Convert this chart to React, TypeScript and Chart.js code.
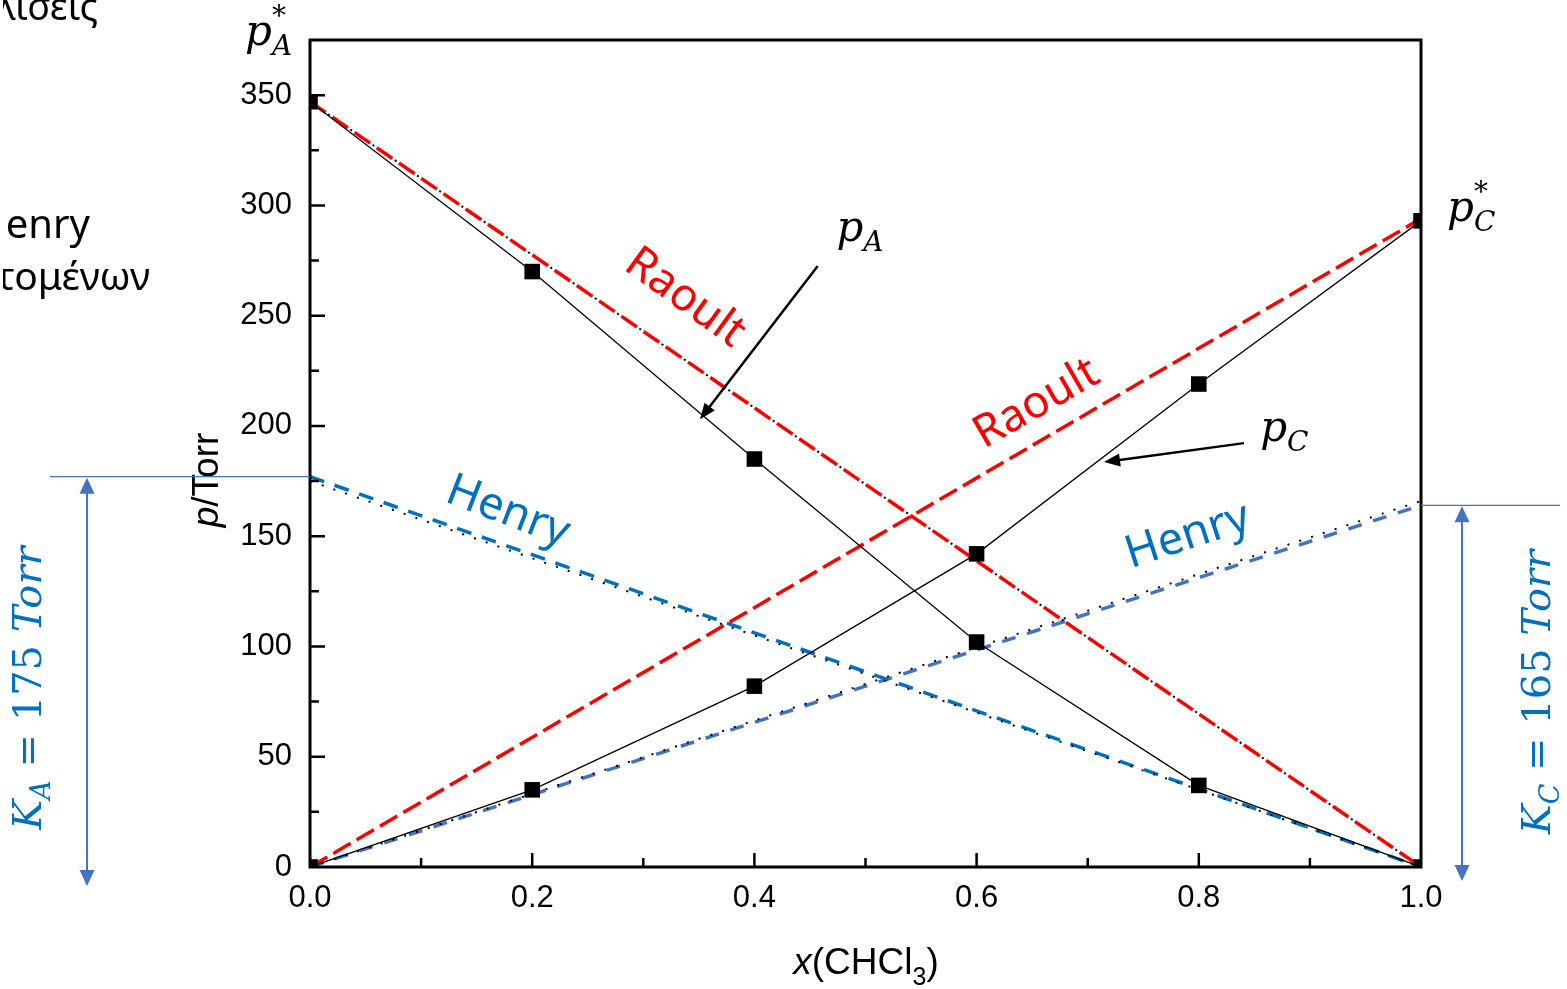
import React, { useEffect, useRef } from "react";
import { Chart, registerables } from "chart.js";

Chart.register(...registerables);

// ---------- data ----------
const moleFractions = [0, 0.2, 0.4, 0.6, 0.8, 1.0];
const pAcetone = [347, 270, 185, 102, 37, 0];
const pChloroform = [0, 35, 82, 142, 219, 293];

const lineEnds = [0, 1];
const raoultAcetone = [347, 0];
const raoultChloroform = [0, 294];
const henryAcetone = [177, 0];
const henryAcetoneGuide = [175, 0];
const henryChloroform = [0, 164];
const henryChloroformGuide = [0, 166];

const xTickValues = [0, 0.2, 0.4, 0.6, 0.8, 1.0];
const yTickValues = [0, 50, 100, 150, 200, 250, 300, 350];
const xMinorStep = 0.1;
const yMinorStep = 25;
const K_A_LABEL = "175";
const K_C_LABEL = "165";

// ---------- styling ----------
const W = 1567;
const H = 989;
const SANS = "'Liberation Sans', Arial, sans-serif";
const CAL = "'Noto Sans', 'Open Sans', sans-serif";
const MATH = "'DejaVu Serif', 'Liberation Serif', serif";
const RED = "#ff0000";
const BLUE_TXT = "#0070c0";
const BLUE_LINE = "#4472c4";

const pts = (xs: number[], ys: number[]) => xs.map((x, i) => ({ x, y: ys[i] }));

type Run = { text: string; font: string; dy?: number; color?: string; noAdvance?: boolean };

function drawRuns(ctx: CanvasRenderingContext2D, runs: Run[], x: number, y: number, align: "left" | "center" | "right", color: string) {
  let total = 0;
  for (const r of runs) {
    ctx.font = r.font;
    if (!r.noAdvance) total += ctx.measureText(r.text).width;
  }
  let cx = align === "left" ? x : align === "center" ? x - total / 2 : x - total;
  ctx.textAlign = "left";
  ctx.textBaseline = "alphabetic";
  for (const r of runs) {
    ctx.font = r.font;
    ctx.fillStyle = r.color || color;
    ctx.fillText(r.text, cx, y + (r.dy || 0));
    if (!r.noAdvance) cx += ctx.measureText(r.text).width;
  }
}

function arrowHead(ctx: CanvasRenderingContext2D, x0: number, y0: number, x1: number, y1: number, len: number, half: number) {
  const ang = Math.atan2(y1 - y0, x1 - x0);
  ctx.beginPath();
  ctx.moveTo(x1, y1);
  ctx.lineTo(x1 - len * Math.cos(ang) + half * Math.sin(ang), y1 - len * Math.sin(ang) - half * Math.cos(ang));
  ctx.lineTo(x1 - len * Math.cos(ang) - half * Math.sin(ang), y1 - len * Math.sin(ang) + half * Math.cos(ang));
  ctx.closePath();
  ctx.fill();
}

const overlay = {
  id: "overlay",
  afterDatasetsDraw(chart: any) {
    const ctx: CanvasRenderingContext2D = chart.ctx;
    const a = chart.chartArea;
    const sx = chart.scales.x;
    const sy = chart.scales.y;
    const px = (v: number) => sx.getPixelForValue(v);
    const py = (v: number) => sy.getPixelForValue(v);
    ctx.save();

    // frame
    ctx.strokeStyle = "#000";
    ctx.lineWidth = 3;
    ctx.strokeRect(a.left, a.top, a.right - a.left, a.bottom - a.top);

    // ticks (inside)
    ctx.lineWidth = 2.5;
    ctx.beginPath();
    for (let i = 1; i * xMinorStep < 1 - 1e-9; i++) {
      const v = i * xMinorStep;
      const len = i % 2 === 0 ? 14 : 9;
      ctx.moveTo(px(v), a.bottom);
      ctx.lineTo(px(v), a.bottom - len);
    }
    for (let v = yMinorStep; v < sy.max; v += yMinorStep) {
      const len = v % 50 === 0 ? 15 : 9;
      ctx.moveTo(a.left, py(v));
      ctx.lineTo(a.left + len, py(v));
    }
    ctx.stroke();

    // axis titles
    drawRuns(
      ctx,
      [
        { text: "x", font: `italic 37px ${SANS}` },
        { text: "(CHCl", font: `37px ${SANS}` },
        { text: "3", font: `25px ${SANS}`, dy: 11 },
        { text: ")", font: `37px ${SANS}` },
      ],
      866,
      974,
      "center",
      "#000"
    );
    ctx.save();
    ctx.translate(218, 480);
    ctx.rotate(-Math.PI / 2);
    drawRuns(
      ctx,
      [
        { text: "p", font: `italic 37px ${SANS}` },
        { text: "/Torr", font: `37px ${SANS}` },
      ],
      0,
      0,
      "center",
      "#000"
    );
    ctx.restore();

    // rotated curve labels
    const rotText = (t: string, vx: number, vy: number, deg: number, color: string) => {
      ctx.save();
      ctx.translate(px(vx), py(vy));
      ctx.rotate((deg * Math.PI) / 180);
      ctx.font = `45px ${CAL}`;
      ctx.fillStyle = color;
      ctx.textAlign = "center";
      ctx.textBaseline = "middle";
      ctx.fillText(t, 0, 0);
      ctx.restore();
    };
    rotText("Raoult", 0.3375, 258, 36, RED);
    rotText("Raoult", 0.654, 210, -30, RED);
    rotText("Henry", 0.178, 161, 21, BLUE_TXT);
    rotText("Henry", 0.79, 150, -18, BLUE_TXT);

    // p_A, p_C labels and arrows
    const mP = `italic 42px ${MATH}`;
    const mSub = `italic 28px ${MATH}`;
    drawRuns(ctx, [{ text: "p", font: mP }, { text: "A", font: mSub, dy: 10 }], px(0.495), py(284), "center", "#000");
    drawRuns(ctx, [{ text: "p", font: mP }, { text: "C", font: mSub, dy: 10 }], px(0.877), py(193), "center", "#000");
    ctx.strokeStyle = "#000";
    ctx.fillStyle = "#000";
    ctx.lineWidth = 2.5;
    const arrow = (x0: number, y0: number, x1: number, y1: number) => {
      const X0 = px(x0), Y0 = py(y0), X1 = px(x1), Y1 = py(y1);
      const ang = Math.atan2(Y1 - Y0, X1 - X0);
      ctx.beginPath();
      ctx.moveTo(X0, Y0);
      ctx.lineTo(X1 - 12 * Math.cos(ang), Y1 - 12 * Math.sin(ang));
      ctx.stroke();
      arrowHead(ctx, X0, Y0, X1, Y1, 16, 6.5);
    };
    arrow(0.457, 272.5, 0.351, 203);
    arrow(0.8407, 192.2, 0.7147, 183.6);

    // p*_A and p*_C
    const starRuns: (s: string) => Run[] = (s) => [
      { text: "p", font: mP },
      { text: "*", font: `28px ${MATH}`, dy: -20, noAdvance: true },
      { text: s, font: mSub, dy: 10 },
    ];
    drawRuns(ctx, starRuns("A"), 245, 45, "left", "#000");
    drawRuns(ctx, starRuns("C"), 1447, 221, "left", "#000");

    // Henry constants: guide lines and double arrows
    const yKA = py(henryAcetone[0]);
    const yKC = py(henryChloroform[1]);
    ctx.strokeStyle = BLUE_LINE;
    ctx.fillStyle = BLUE_LINE;
    ctx.lineWidth = 1.3;
    ctx.beginPath();
    ctx.moveTo(50, yKA);
    ctx.lineTo(a.left, yKA);
    ctx.moveTo(a.right, yKC);
    ctx.lineTo(1560, yKC);
    ctx.stroke();
    const dbl = (xx: number, yTop: number, yBot: number) => {
      ctx.lineWidth = 2;
      ctx.beginPath();
      ctx.moveTo(xx, yTop + 10);
      ctx.lineTo(xx, yBot - 10);
      ctx.stroke();
      arrowHead(ctx, xx, yBot, xx, yTop, 16, 7.5);
      arrowHead(ctx, xx, yTop, xx, yBot, 16, 7.5);
    };
    dbl(87, yKA + 1, 886);
    dbl(1462, yKC + 1, 881);

    const kRuns = (sub: string, val: string): Run[] => [
      { text: "K", font: `italic 40px ${MATH}` },
      { text: sub, font: `italic 27px ${MATH}`, dy: 9 },
      { text: " = " + val + " ", font: `40px ${MATH}` },
      { text: "Torr", font: `italic 40px ${MATH}` },
    ];
    ctx.save();
    ctx.translate(41, 688);
    ctx.rotate(-Math.PI / 2);
    drawRuns(ctx, kRuns("A", K_A_LABEL), 0, 0, "center", BLUE_TXT);
    ctx.restore();
    ctx.save();
    ctx.translate(1550, 692);
    ctx.rotate(-Math.PI / 2);
    drawRuns(ctx, kRuns("C", K_C_LABEL), 0, 0, "center", BLUE_TXT);
    ctx.restore();

    // slide text fragments at the left edge (cut off by the page edge)
    ctx.save();
    ctx.beginPath();
    ctx.rect(3, 0, 200, 320);
    ctx.clip();
    ctx.fillStyle = "#000";
    ctx.textAlign = "right";
    ctx.textBaseline = "alphabetic";
    ctx.font = `38px ${CAL}`;
    ctx.fillText("Αποκλίσεις", 98, 20);
    ctx.font = `40px ${CAL}`;
    ctx.fillText("Νόμος Henry", 90, 238);
    ctx.font = `39px ${CAL}`;
    ctx.fillText("των διαλυτομένων", 150, 290);
    ctx.restore();

    ctx.restore();
  },
};

export default function App() {
  const ref = useRef<HTMLCanvasElement | null>(null);

  useEffect(() => {
    if (!ref.current) return;
    const thin = { pointRadius: 0, pointHoverRadius: 0, fill: false, tension: 0, clip: 0 };
    const chart = new Chart(ref.current, {
      type: "line",
      data: {
        datasets: [
          {
            label: "pA",
            data: pts(moleFractions, pAcetone),
            borderColor: "#000",
            backgroundColor: "#000",
            borderWidth: 1.3,
            pointStyle: "rect",
            pointRadius: 11,
            pointBorderWidth: 0,
            clip: 0,
          },
          {
            label: "pC",
            data: pts(moleFractions, pChloroform),
            borderColor: "#000",
            backgroundColor: "#000",
            borderWidth: 1.3,
            pointStyle: "rect",
            pointRadius: 11,
            pointBorderWidth: 0,
            clip: 0,
          },
          {
            label: "Henry A guide",
            data: pts(lineEnds, henryAcetoneGuide),
            borderColor: "#000",
            borderWidth: 2,
            borderDash: [2, 10.4],
            ...thin,
          },
          {
            label: "Henry C guide",
            data: pts(lineEnds, henryChloroformGuide),
            borderColor: "#000",
            borderWidth: 2,
            borderDash: [2, 10.4],
            ...thin,
          },
          {
            label: "Raoult A",
            data: pts(lineEnds, raoultAcetone),
            borderColor: RED,
            borderWidth: 3.5,
            borderDash: [19, 8],
            ...thin,
          },
          {
            label: "Raoult A guide",
            data: pts(lineEnds, raoultAcetone),
            borderColor: "#000",
            borderWidth: 2,
            borderDash: [2, 25],
            borderDashOffset: 5,
            ...thin,
          },
          {
            label: "Raoult C",
            data: pts(lineEnds, raoultChloroform),
            borderColor: RED,
            borderWidth: 3.5,
            borderDash: [20, 7],
            ...thin,
          },
          {
            label: "Henry A",
            data: pts(lineEnds, henryAcetone),
            borderColor: BLUE_TXT,
            borderWidth: 3.5,
            borderDash: [15, 11],
            ...thin,
          },
          {
            label: "Henry C",
            data: pts(lineEnds, henryChloroform),
            borderColor: BLUE_LINE,
            borderWidth: 3.5,
            borderDash: [14, 12],
            ...thin,
          },
        ],
      },
      options: {
        animation: false,
        responsive: false,
        devicePixelRatio: 1,
        events: [],
        layout: { padding: { top: 40, right: 146, left: 0, bottom: 0 } },
        plugins: { legend: { display: false }, tooltip: { enabled: false } },
        scales: {
          x: {
            type: "linear",
            min: 0,
            max: 1,
            grid: { display: false, drawTicks: false },
            border: { display: false },
            afterFit: (s: any) => {
              s.height = 122;
            },
            afterBuildTicks: (s: any) => {
              s.ticks = xTickValues.map((v) => ({ value: v }));
            },
            ticks: {
              padding: 13,
              color: "#000",
              font: { family: SANS, size: 31 },
              maxRotation: 0,
              callback: (v: any) => Number(v).toFixed(1),
            },
          },
          y: {
            type: "linear",
            min: 0,
            max: 375,
            grid: { display: false, drawTicks: false },
            border: { display: false },
            afterFit: (s: any) => {
              s.width = 310;
            },
            afterBuildTicks: (s: any) => {
              s.ticks = yTickValues.map((v) => ({ value: v }));
            },
            ticks: {
              padding: 18,
              color: "#000",
              font: { family: SANS, size: 31 },
              callback: (v: any) => String(v),
            },
          },
        },
      },
      plugins: [overlay],
    } as any);
    return () => chart.destroy();
  }, []);

  return (
    <div style={{ position: "fixed", left: 0, top: 0, width: W, height: H, background: "#fff" }}>
      <canvas ref={ref} width={W} height={H} style={{ display: "block", width: W, height: H }} />
    </div>
  );
}
